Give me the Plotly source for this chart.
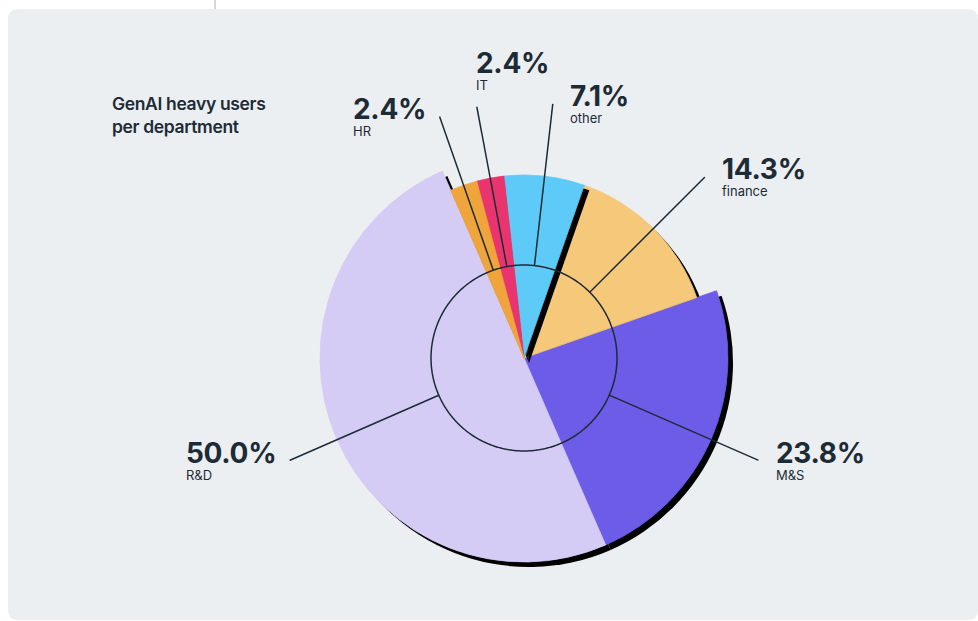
import numpy as np
import plotly.graph_objects as go

# ---------------- data ----------------
departments = ["M&S", "finance", "other", "IT", "HR", "R&D"]
shares = [23.8, 14.3, 7.1, 2.4, 2.4, 50.0]
title_lines = ["GenAI heavy users", "per department"]

# ---------------- style ----------------
colors = ["#6c5ce7", "#f5c87a", "#5dcaf8", "#e9346e", "#f0a53c", "#d5ccf5"]
slice_radius = [204, 183, 183, 183, 183, 204]
label_side = ["right", "right", "right", "top", "left", "left"]
layer_of = [0, 0, 1, 1, 1, 0]          # which stacking group each slice belongs to
START_ANGLE = -66.4                      # where the first slice starts (deg, ccw)
INNER_R = 93
LEADER_R = 256
W, H = 978, 621
CX, CY = 524, 358
HALF = 256
SHADOW = (5, 5)
INK = "#1c2b36"
PANEL = "#eceff2"
FONT = "Inter"

# ---------------- geometry from data ----------------
widths = [s / 100 * 360 for s in shares]
starts = START_ANGLE + np.concatenate([[0], np.cumsum(widths)[:-1]])
mids = [float(st + w / 2) for st, w in zip(starts, widths)]


def dom(dx=0, dy=0):
    return dict(x=[(CX - HALF + dx) / W, (CX + HALF + dx) / W],
                y=[1 - (CY + HALF + dy) / H, 1 - (CY - HALF + dy) / H])


fig = go.Figure()

for grp in (0, 1):
    idx = [i for i in range(len(departments)) if layer_of[i] == grp]
    sh_sub = "polar" if grp == 0 else "polar3"
    main_sub = "polar2" if grp == 0 else "polar4"
    fig.add_trace(go.Barpolar(
        r=[slice_radius[i] for i in idx], theta=[mids[i] for i in idx],
        width=[widths[i] for i in idx], base=0,
        marker=dict(color="black", line=dict(width=0)),
        subplot=sh_sub, showlegend=False, hoverinfo="skip"))
    fig.add_trace(go.Barpolar(
        r=[slice_radius[i] for i in idx], theta=[mids[i] for i in idx],
        width=[widths[i] for i in idx], base=0,
        marker=dict(color=[colors[i] for i in idx],
                    line=dict(width=0.8, color=[colors[i] for i in idx])),
        subplot=main_sub, showlegend=False,
        text=[departments[i] for i in idx], hoverinfo="text"))

# inner ring
ring_theta = np.linspace(0, 360, 721)
fig.add_trace(go.Scatterpolar(
    r=[INNER_R] * len(ring_theta), theta=ring_theta, mode="lines",
    line=dict(color=INK, width=1.5), subplot="polar4",
    showlegend=False, hoverinfo="skip"))

# leader lines
lr, lt = [], []
for m in mids:
    lr += [INNER_R, LEADER_R, None]
    lt += [m, m, None]
fig.add_trace(go.Scatterpolar(
    r=lr, theta=lt, mode="lines", line=dict(color=INK, width=1.5),
    subplot="polar4", showlegend=False, hoverinfo="skip", connectgaps=False,
    cliponaxis=False))

# labels at the ends of the leader lines
annotations = []
for name, s, m, side in zip(departments, shares, mids, label_side):
    ex = CX + LEADER_R * np.cos(np.radians(m))
    ey = CY - LEADER_R * np.sin(np.radians(m))
    txt = (f"<span style='font-size:28px;font-weight:700;letter-spacing:-0.3px'>{s:.1f}%</span>"
           f"<br><span style='font-size:13px'>{name}</span>")
    a = dict(x=ex / W, y=1 - ey / H, xref="paper", yref="paper",
             text=txt, showarrow=False, align="left",
             font=dict(family=FONT, size=12.8, color=INK))
    if side == "right":
        a.update(xanchor="left", yanchor="middle", xshift=15, yshift=1)
    elif side == "left":
        a.update(xanchor="right", yanchor="middle", xshift=-11, yshift=1)
    else:
        a.update(xanchor="left", yanchor="bottom", xshift=-3, yshift=11)
    annotations.append(a)

title_html = "<br>".join(
    f"<span style='letter-spacing:-0.35px'>{t}</span>" for t in title_lines)
annotations.append(dict(
    x=110 / W, y=1 - 91 / H, xref="paper", yref="paper", xanchor="left",
    yanchor="top", align="left", showarrow=False, text=title_html,
    font=dict(family=FONT, size=17.5, color=INK, weight=600)))

# background panel (rounded)
x0, x1, y0, y1, rad = 8, 978, 9, 620, 10
def px(x): return x / W
def py(y): return 1 - y / H
panel_path = (f"M {px(x0+rad)} {py(y0)} L {px(x1-rad)} {py(y0)} "
              f"Q {px(x1)} {py(y0)} {px(x1)} {py(y0+rad)} "
              f"L {px(x1)} {py(y1-rad)} Q {px(x1)} {py(y1)} {px(x1-rad)} {py(y1)} "
              f"L {px(x0+rad)} {py(y1)} Q {px(x0)} {py(y1)} {px(x0)} {py(y1-rad)} "
              f"L {px(x0)} {py(y0+rad)} Q {px(x0)} {py(y0)} {px(x0+rad)} {py(y0)} Z")
shapes = [
    dict(type="path", path=panel_path, xref="paper", yref="paper",
         fillcolor=PANEL, line=dict(width=0), layer="below"),
    dict(type="line", x0=px(215), x1=px(215), y0=py(0), y1=py(9),
         xref="paper", yref="paper", line=dict(color="#a9adb2", width=1),
         layer="below"),
]

polar_common = dict(
    bgcolor="rgba(0,0,0,0)",
    radialaxis=dict(visible=False, range=[0, HALF], showgrid=False,
                    showline=False, showticklabels=False, ticks=""),
    angularaxis=dict(visible=False, direction="counterclockwise", rotation=0,
                     showgrid=False, showline=False, showticklabels=False,
                     ticks=""),
)

fig.update_layout(
    width=W, height=H, autosize=False,
    margin=dict(l=0, r=0, t=0, b=0),
    paper_bgcolor="white",
    showlegend=False,
    polar=dict(domain=dom(*SHADOW), **polar_common),
    polar2=dict(domain=dom(), **polar_common),
    polar3=dict(domain=dom(*SHADOW), **polar_common),
    polar4=dict(domain=dom(), **polar_common),
    annotations=annotations,
    shapes=shapes,
    font=dict(family=FONT, color=INK),
)

fig.write_html("out.html")
